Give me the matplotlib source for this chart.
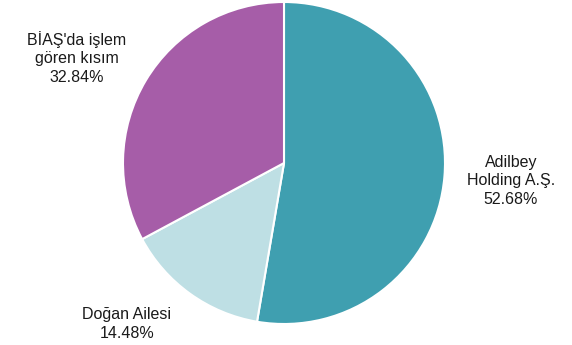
import matplotlib
matplotlib.use("Agg")
import matplotlib.pyplot as plt

labels = ["Adilbey\nHolding A.Ş.", "Doğan Ailesi", "BİAŞ'da işlem\ngören kısım"]
shares = [52.68, 14.48, 32.84]
colors = ["#3F9FB0", "#BEDFE4", "#A65DA8"]
label_pos = [(511, 181), (127, 324), (77, 58)]

plt.rcParams["font.family"] = ["Liberation Sans", "DejaVu Sans"]

W, H = 572, 345
fig = plt.figure(figsize=(W / 100, H / 100), dpi=100)
ax = fig.add_axes([0, 0, 1, 1])

ax.pie(shares, colors=colors, startangle=90, counterclock=False,
       center=(284, H - 163), radius=161,
       wedgeprops=dict(edgecolor="white", linewidth=1.5))

# pie() resets the limits, so set them afterwards
ax.set_xlim(0, W)
ax.set_ylim(0, H)
ax.set_aspect("equal")
ax.axis("off")

for lab, val, (x, y) in zip(labels, shares, label_pos):
    ax.text(x, H - y, f"{lab}\n{val:.2f}%", ha="center", va="center",
            fontsize=11.5, color="#1a1a1a", linespacing=1.3)

fig.savefig("out.png", dpi=100)
